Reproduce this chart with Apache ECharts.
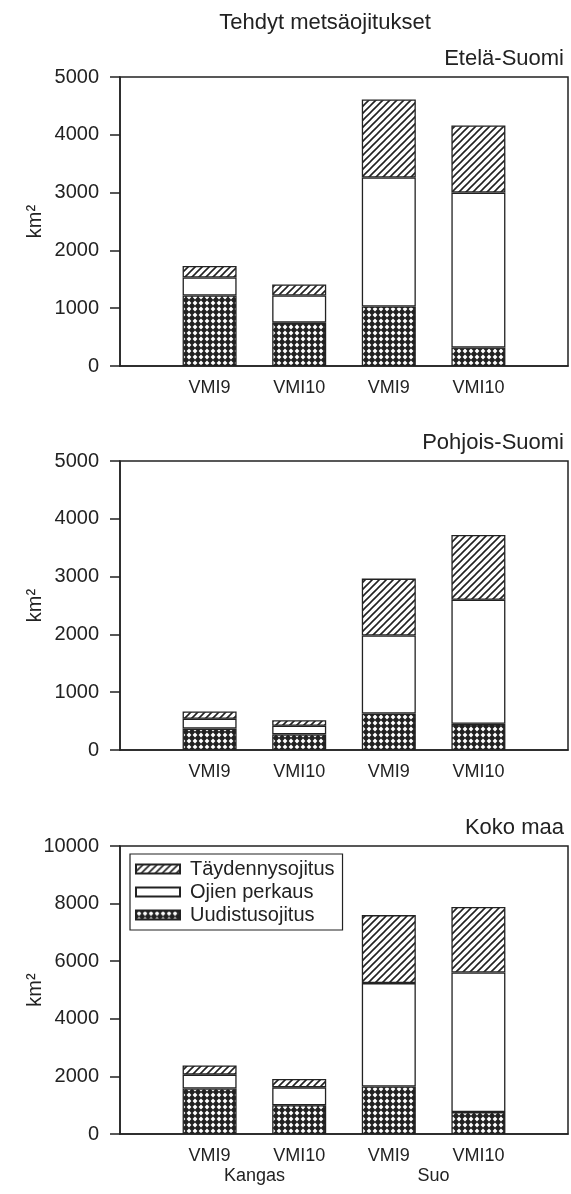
<!DOCTYPE html>
<html>
<head>
<meta charset="utf-8">
<script src="https://cdn.jsdelivr.net/npm/echarts@6/dist/echarts.min.js"></script>
<style>
html,body{margin:0;padding:0;background:#fff;}
#chart{width:571px;height:1194px;}
</style>
</head>
<body>
<div id="chart"></div>
<script>
const categories = ['VMI9', 'VMI10', 'VMI9', 'VMI10'];
const groups = ['Kangas', 'Suo'];
const seriesNames = ['Uudistusojitus', 'Ojien perkaus', 'Täydennysojitus'];
const legendOrder = ['Täydennysojitus', 'Ojien perkaus', 'Uudistusojitus'];
const mainTitle = 'Tehdyt metsäojitukset';
const panelTitles = ['Etelä-Suomi', 'Pohjois-Suomi', 'Koko maa'];
const yUnit = 'km²';

const etelaUudistus = [1220, 750, 1030, 320];
const etelaPerkaus = [310, 470, 2230, 2680];
const etelaTaydennys = [200, 190, 1350, 1160];

const pohjoisUudistus = [370, 270, 630, 455];
const pohjoisPerkaus = [170, 150, 1350, 2145];
const pohjoisTaydennys = [125, 95, 985, 1120];

const kokoUudistus = [1580, 1000, 1650, 760];
const kokoPerkaus = [480, 620, 3590, 4850];
const kokoTaydennys = [320, 290, 2360, 2270];

const yMax = [5000, 5000, 10000];
const yStep = [1000, 1000, 2000];

const panels = [
  [etelaUudistus, etelaPerkaus, etelaTaydennys],
  [pohjoisUudistus, pohjoisPerkaus, pohjoisTaydennys],
  [kokoUudistus, kokoPerkaus, kokoTaydennys]
];

// fill patterns
function hatchPattern() {
  const s = 7;
  const c = document.createElement('canvas');
  c.width = s; c.height = s;
  const g = c.getContext('2d');
  g.fillStyle = '#fff'; g.fillRect(0, 0, s, s);
  g.strokeStyle = '#222'; g.lineWidth = 1.6;
  g.beginPath();
  g.moveTo(-1, s + 1); g.lineTo(s + 1, -1);
  g.moveTo(-1, 1); g.lineTo(1, -1);
  g.moveTo(s - 1, s + 1); g.lineTo(s + 1, s - 1);
  g.stroke();
  return c;
}
function crossPattern() {
  const s = 6;
  const c = document.createElement('canvas');
  c.width = s; c.height = s;
  const g = c.getContext('2d');
  g.fillStyle = '#222'; g.fillRect(0, 0, s, s);
  g.fillStyle = '#fff';
  g.beginPath();
  const r = 2.4;
  g.moveTo(3, 3 - r); g.lineTo(3 + r, 3); g.lineTo(3, 3 + r); g.lineTo(3 - r, 3);
  g.closePath(); g.fill();
  return c;
}
const fills = [
  { image: crossPattern(), repeat: 'repeat' },
  '#ffffff',
  { image: hatchPattern(), repeat: 'repeat' }
];

const FONT = '"Liberation Sans", Arial, sans-serif';
const TXT = '#222';
const plotLeft = 120, plotRight = 1;
const tops = [77, 461, 846];
const heights = [289, 289, 288];

const xCats = [''].concat(categories, ['']);

const grids = [], xAxes = [], yAxes = [], series = [];
panels.forEach((p, i) => {
  grids.push({
    left: plotLeft, right: plotRight, top: tops[i], height: heights[i],
    show: true, borderColor: TXT, borderWidth: 1.5, backgroundColor: 'transparent'
  });
  xAxes.push({
    type: 'category', gridIndex: i, data: xCats, boundaryGap: false,
    axisLine: { show: true, lineStyle: { color: TXT, width: 1.5 } },
    axisTick: { show: false },
    axisLabel: { color: TXT, fontSize: 18, fontFamily: FONT, margin: 13, interval: 0 },
    splitLine: { show: false }
  });
  yAxes.push({
    type: 'value', gridIndex: i, min: 0, max: yMax[i], interval: yStep[i],
    name: yUnit, nameLocation: 'middle', nameRotate: 90, nameGap: 75, nameMoveOverlap: false,
    nameTextStyle: { color: TXT, fontSize: 20, fontFamily: FONT },
    axisLine: { show: true, lineStyle: { color: TXT, width: 1.5 } },
    axisTick: { show: true, inside: false, length: 10, lineStyle: { color: TXT, width: 1.5 } },
    axisLabel: { color: TXT, fontSize: 20, fontFamily: FONT, margin: 21, formatter: v => String(v) },
    splitLine: { show: false }
  });
  p.forEach((vals, k) => {
    series.push({
      name: seriesNames[k], type: 'bar', stack: 'p' + i,
      xAxisIndex: i, yAxisIndex: i, barWidth: 54,
      data: ['-'].concat(vals, ['-']),
      itemStyle: { color: fills[k], borderColor: TXT, borderWidth: 1.3 },
      emphasis: { disabled: true },
      animation: false
    });
  });
});

// group labels (Kangas / Suo) on an extra value axis under the bottom panel
xAxes.push({
  type: 'value', gridIndex: 2, position: 'bottom', offset: 20,
  min: 0, max: xCats.length - 1, interval: 0.5,
  axisLine: { show: false }, axisTick: { show: false }, splitLine: { show: false },
  axisLabel: {
    color: TXT, fontSize: 18, fontFamily: FONT, margin: 13, showMinLabel: true, showMaxLabel: true,
    formatter: v => (v === 1.5 ? groups[0] : (v === 3.5 ? groups[1] : ''))
  }
});

const titles = [{
  text: mainTitle, left: 320, top: 7, textAlign: 'center',
  textStyle: { color: TXT, fontSize: 22, fontWeight: 'normal', fontFamily: FONT }
}];
panelTitles.forEach((t, i) => {
  titles.push({
    text: t, right: 2, top: tops[i] - 34,
    textStyle: { color: TXT, fontSize: 22, fontWeight: 'normal', fontFamily: FONT }
  });
});

const chart = echarts.init(document.getElementById('chart'), null, { renderer: 'canvas' });
chart.setOption({
  animation: false,
  backgroundColor: '#fff',
  title: titles,
  grid: grids,
  xAxis: xAxes,
  yAxis: yAxes,
  legend: {
    data: legendOrder, orient: 'vertical', left: 130, top: 854,
    itemWidth: 44, itemHeight: 9, itemGap: 3,
    icon: 'rect',
    borderColor: TXT, borderWidth: 1.2, padding: [5, 8, 5, 5],
    backgroundColor: '#fff',
    textStyle: { color: TXT, fontSize: 20, fontFamily: FONT, padding: [0, 0, 0, 5] },
    selectedMode: false
  },
  series: series
});
</script>
</body>
</html>
